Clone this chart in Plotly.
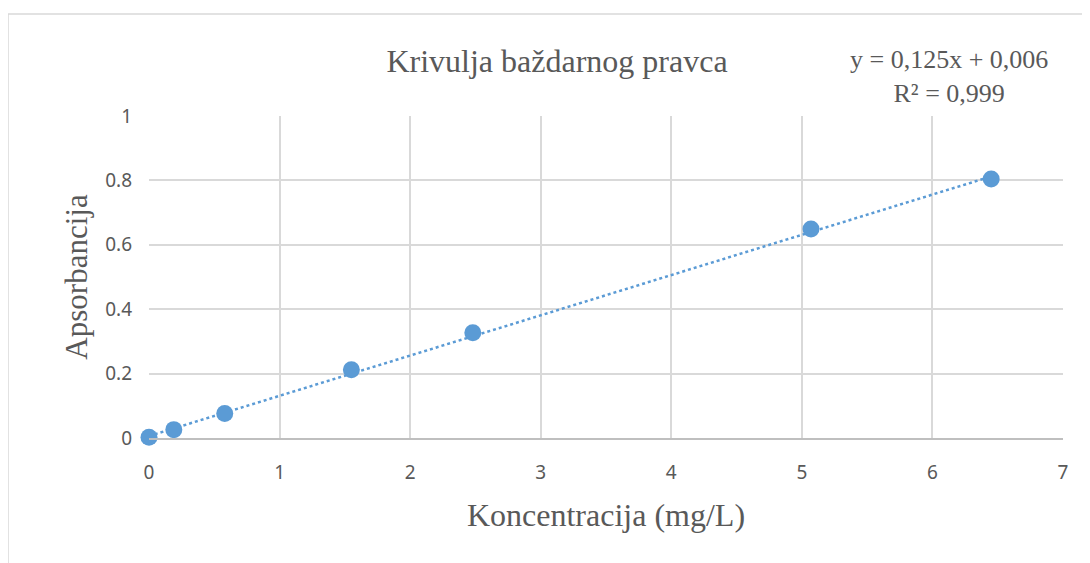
import plotly.graph_objects as go

konc = [0, 0.19, 0.58, 1.55, 2.48, 5.07, 6.45]
aps = [0.002, 0.026, 0.076, 0.212, 0.327, 0.649, 0.804]
slope = 0.125
intercept = 0.006
x_ticks = [0, 1, 2, 3, 4, 5, 6, 7]
y_ticks = [0, 0.2, 0.4, 0.6, 0.8, 1]
y_tick_text = ["0", "0.2", "0.4", "0.6", "0.8", "1"]

trend_x = [min(konc), max(konc)]
trend_y = [slope * v + intercept for v in trend_x]

blue = "#5B9BD5"
serif = "Liberation Serif, Times New Roman, serif"
sans = "Noto Sans, Carlito, Calibri, sans-serif"

# page body has an 8px margin; work in figure coordinates
OFF = 8
W, H = 1090 - OFF, 563 - OFF
L, R, T, B = 149 - OFF, 1063 - OFF, 116 - OFF, 438 - OFF


def cx(x):  # container fraction
    return (x - OFF) / W


def cy(y):
    return 1 - (y - OFF) / H


def ax(x):  # plot-area fraction (screen px)
    return (x - 149) / (1063 - 149)


def ay(y):
    return (438 - y) / (438 - 116)


fig = go.Figure()
fig.add_trace(go.Scatter(x=trend_x, y=trend_y, mode="lines",
                         line=dict(color=blue, width=2.5, dash="dot"),
                         hoverinfo="skip", showlegend=False))
fig.add_trace(go.Scatter(x=konc, y=aps, mode="markers",
                         marker=dict(color=blue, size=17),
                         showlegend=False, cliponaxis=False))

fig.update_layout(
    width=W, height=H,
    margin=dict(l=L, r=W - R, t=T, b=H - B),
    paper_bgcolor="white", plot_bgcolor="white",
    title=dict(text="Krivulja baždarnog pravca", x=cx(557), xanchor="center",
               y=cy(61), yanchor="middle",
               font=dict(family=serif, size=32, color="#595959")),
    xaxis=dict(range=[0, 7], tickvals=x_ticks, showgrid=True, gridcolor="#d9d9d9",
               gridwidth=1.5, zeroline=False, showline=True, linecolor="#bfbfbf",
               linewidth=1.5, ticks="", ticklabelstandoff=16,
               tickfont=dict(family=sans, size=19, color="#595959"),
               title=dict(text="Koncentracija (mg/L)", standoff=20,
                          font=dict(family=serif, size=32, color="#595959"))),
    yaxis=dict(range=[0, 1], tickvals=y_ticks, ticktext=y_tick_text, showgrid=True,
               gridcolor="#d9d9d9", gridwidth=1.5, zeroline=False, showline=False,
               ticks="", ticklabelstandoff=16,
               tickfont=dict(family=sans, size=19, color="#595959"),
               title=dict(text="Apsorbancija", standoff=8,
                          font=dict(family=serif, size=31, color="#595959"))),
)

fig.add_annotation(x=ax(949), y=ay(76), xref="paper", yref="paper",
                   xanchor="center", yanchor="middle", showarrow=False,
                   text="y = 0,125x + 0,006<br>R² = 0,999", align="center",
                   font=dict(family=serif, size=26, color="#595959"))

# outer chart-area border
fig.add_shape(type="rect", xref="paper", yref="paper",
              x0=ax(8), x1=1.2, y0=-0.6, y1=ay(14),
              line=dict(color="#d9d9d9", width=1.5), layer="below")

fig.write_html("out.html")
